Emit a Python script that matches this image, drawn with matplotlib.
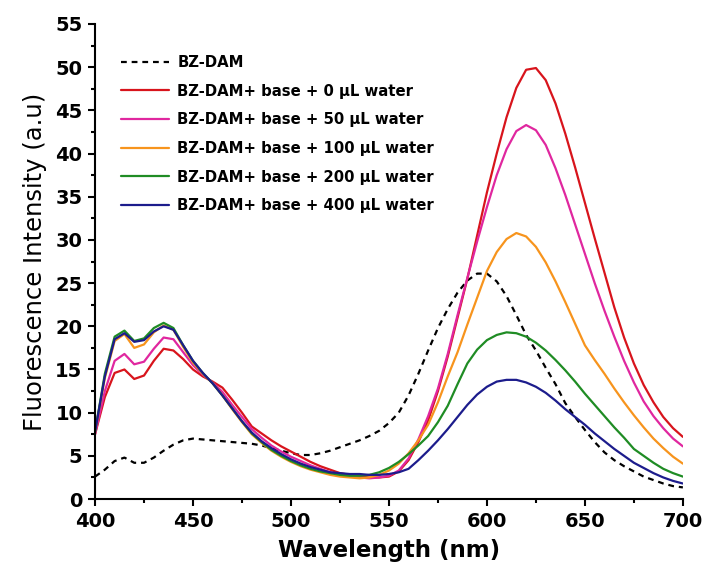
# -*- coding: utf-8 -*-
"""
Fluorescence spectra of BZ-DAM with base and increasing amounts of water.
"""

import matplotlib
matplotlib.use('Agg')
import matplotlib.pyplot as plt
from matplotlib.ticker import MultipleLocator

#Data (nm, a.u.)
wavelength = list(range(400, 701, 5))

bz_dam = [2.6, 3.4, 4.4, 4.8, 4.2, 4.2, 4.8, 5.6, 6.3, 6.8,
          7.0, 6.9, 6.8, 6.7, 6.6, 6.5, 6.4, 6.2, 5.9, 5.6,
          5.3, 5.1, 5.1, 5.3, 5.6, 6.0, 6.4, 6.8, 7.3, 7.9,
          8.8, 10.0, 12.0, 14.5, 17.2, 19.8, 22.0, 23.9, 25.3, 26.1,
          26.1, 25.2, 23.5, 21.3, 19.0, 17.2, 15.2, 13.3, 11.1, 9.5,
          8.0, 6.6, 5.4, 4.5, 3.8, 3.2, 2.6, 2.2, 1.8, 1.5, 1.35]

water_0 = [7.5, 11.8, 14.6, 15.0, 13.9, 14.3, 16.0, 17.4, 17.2, 16.2,
           15.0, 14.2, 13.6, 12.9, 11.5, 10.0, 8.4, 7.6, 6.8, 6.1,
           5.5, 4.9, 4.3, 3.8, 3.4, 3.0, 2.8, 2.6, 2.5, 2.5,
           2.6, 3.2, 4.5, 6.6, 9.1, 12.5, 16.5, 21.0, 25.5, 30.5,
           35.5, 40.0, 44.2, 47.6, 49.7, 49.9, 48.5, 45.8, 42.3, 38.4,
           34.3, 30.2, 26.2, 22.2, 18.7, 15.7, 13.2, 11.2, 9.5, 8.2, 7.2]

water_50 = [7.5, 12.5, 16.0, 16.8, 15.6, 15.9, 17.4, 18.7, 18.5, 17.0,
            15.5, 14.4, 13.5, 12.4, 10.9, 9.5, 8.1, 7.1, 6.2, 5.5,
            4.9, 4.4, 3.9, 3.5, 3.1, 2.8, 2.6, 2.5, 2.4, 2.5,
            2.7, 3.3, 4.7, 6.9, 9.6, 12.8, 16.8, 21.3, 25.6, 29.8,
            33.8, 37.5, 40.5, 42.6, 43.3, 42.7, 41.0, 38.3, 35.2, 31.8,
            28.4, 25.0, 21.8, 18.8, 16.0, 13.5, 11.3, 9.6, 8.2, 7.0, 6.1]

water_100 = [7.8, 14.0, 18.3, 19.1, 17.5, 17.9, 19.3, 20.1, 19.6, 17.6,
             15.8, 14.5, 13.4, 12.0, 10.4, 8.9, 7.5, 6.5, 5.6, 4.9,
             4.3, 3.8, 3.4, 3.1, 2.8, 2.6, 2.5, 2.4, 2.5, 2.8,
             3.3, 4.1, 5.3, 6.8, 8.6, 11.2, 14.2, 17.0, 20.2, 23.3,
             26.4, 28.6, 30.1, 30.8, 30.4, 29.2, 27.4, 25.2, 22.8, 20.3,
             17.8, 16.1, 14.5, 12.8, 11.2, 9.7, 8.3, 7.0, 5.9, 4.9, 4.1]

water_200 = [7.8, 14.5, 18.8, 19.5, 18.3, 18.6, 19.8, 20.4, 19.8, 17.8,
             16.0, 14.6, 13.4, 12.0, 10.5, 9.0, 7.6, 6.6, 5.7, 5.0,
             4.4, 3.9, 3.5, 3.2, 3.0, 2.8, 2.7, 2.7, 2.8, 3.1,
             3.6, 4.3, 5.2, 6.2, 7.3, 8.9, 10.8, 13.3, 15.7, 17.3,
             18.4, 19.0, 19.3, 19.2, 18.8, 18.1, 17.2, 16.1, 14.9, 13.6,
             12.2, 10.9, 9.6, 8.3, 7.1, 5.8, 5.0, 4.2, 3.5, 3.0, 2.6]

water_400 = [7.8, 14.2, 18.5, 19.2, 18.2, 18.4, 19.4, 20.0, 19.6, 17.8,
             16.0, 14.6, 13.4, 12.0, 10.5, 9.0, 7.7, 6.7, 5.9, 5.2,
             4.6, 4.1, 3.7, 3.4, 3.1, 3.0, 2.9, 2.9, 2.8, 2.8,
             2.9, 3.1, 3.5, 4.5, 5.6, 6.8, 8.1, 9.5, 10.9, 12.1,
             13.0, 13.6, 13.8, 13.8, 13.5, 13.0, 12.3, 11.4, 10.4, 9.5,
             8.6, 7.6, 6.7, 5.8, 5.0, 4.2, 3.6, 3.0, 2.5, 2.1, 1.8]

labels = ['BZ-DAM',
          'BZ-DAM+ base + 0 \u03bcL water',
          'BZ-DAM+ base + 50 \u03bcL water',
          'BZ-DAM+ base + 100 \u03bcL water',
          'BZ-DAM+ base + 200 \u03bcL water',
          'BZ-DAM+ base + 400 \u03bcL water']
colours = ['black', '#d8141c', '#e0279f', '#f7941d', '#1f8c24', '#1c1c8c']

#Figure at 704x571 px.
fig = plt.figure(figsize=(7.04, 5.71), dpi=100)
ax = fig.add_axes([0.135, 0.126, 0.835, 0.832])

ax.plot(wavelength, bz_dam, color=colours[0], lw=1.6, ls=(0, (2.6, 2.2)), label=labels[0])
series = [water_0, water_50, water_100, water_200, water_400]
for i in range(len(series)):
    ax.plot(wavelength, series[i], color=colours[i + 1], lw=1.6, label=labels[i + 1],
            solid_joinstyle='round', solid_capstyle='round')

#Axes styling.
ax.set_xlim(400, 700)
ax.set_ylim(0, 55)
ax.xaxis.set_major_locator(MultipleLocator(50))
ax.xaxis.set_minor_locator(MultipleLocator(25))
ax.yaxis.set_major_locator(MultipleLocator(5))
ax.yaxis.set_minor_locator(MultipleLocator(2.5))
ax.spines['top'].set_visible(False)
ax.spines['right'].set_visible(False)
for s in ['left', 'bottom']:
    ax.spines[s].set_linewidth(1.5)
ax.tick_params(which='major', direction='out', length=5, width=1.5, pad=4)
ax.tick_params(which='minor', direction='out', length=3, width=1.5)
for lab in ax.get_xticklabels() + ax.get_yticklabels():
    lab.set_fontsize(14)
    lab.set_fontweight('bold')

ax.set_xlabel('Wavelength (nm)', fontsize=16.5, fontweight='bold', labelpad=6)
ax.set_ylabel('Fluorescence Intensity (a.u)', fontsize=17.5, labelpad=6)

leg = ax.legend(loc='upper left', bbox_to_anchor=(0.045, 0.935), frameon=False,
                prop={'weight': 'bold', 'size': 10.7}, handlelength=3.2,
                handletextpad=0.55, labelspacing=0.92, borderpad=0, borderaxespad=0)

plt.savefig('out.png', dpi=100)
